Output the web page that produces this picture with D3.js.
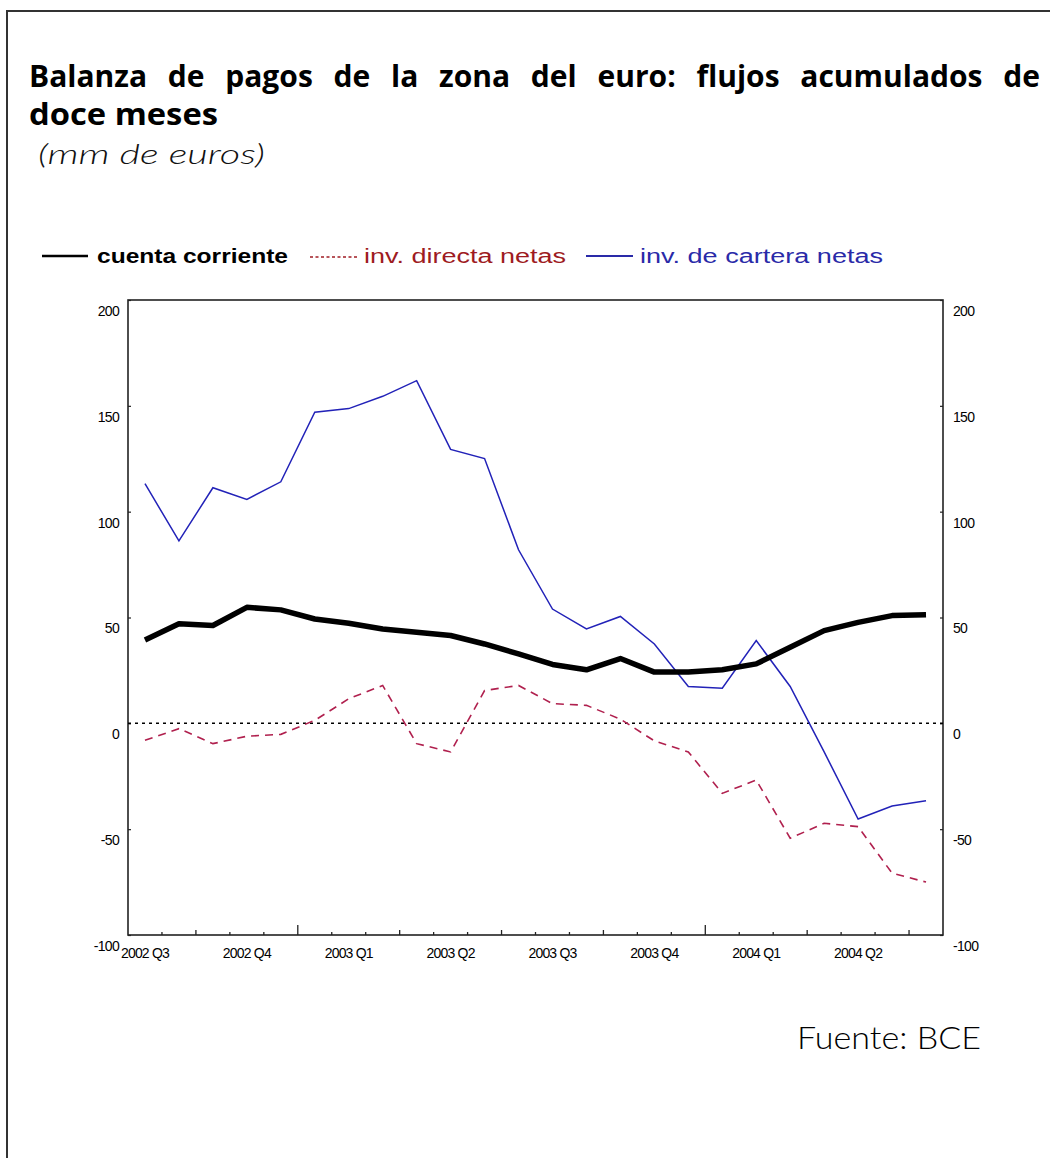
<!DOCTYPE html>
<html><head><meta charset="utf-8">
<script src="https://cdn.jsdelivr.net/npm/d3@7"></script>
<style>body{margin:0;background:#fff} svg{display:block}</style>
</head><body>
<svg id="c" width="1050" height="1158"></svg>
<script>
// ---- data ----
const months = ["2002-07","2002-08","2002-09","2002-10","2002-11","2002-12",
  "2003-01","2003-02","2003-03","2003-04","2003-05","2003-06",
  "2003-07","2003-08","2003-09","2003-10","2003-11","2003-12",
  "2004-01","2004-02","2004-03","2004-04","2004-05","2004-06"];
const quarterLabels = ["2002 Q3","2002 Q4","2003 Q1","2003 Q2","2003 Q3","2003 Q4","2004 Q1","2004 Q2"];
const quarterStarts = ["2002-07","2002-10","2003-01","2003-04","2003-07","2003-10","2004-01","2004-04"];
const cuentaCorriente = [39.4,47,46.2,54.8,53.6,49.3,47.3,44.6,43,41.5,37.5,32.8,27.8,25.3,30.6,24.2,24.2,25.3,28.1,35.9,43.8,47.7,50.9,51.3];
const invDirectaNetas = [-8,-2.5,-9.6,-6.1,-5.2,1.4,11.6,17.9,-9.6,-13.5,15.5,17.9,9.3,8.5,2,-8.3,-13.5,-33.1,-26.8,-54.3,-47.2,-48.8,-70.8,-75];
const invCarteraNetas = [113.2,86.2,111.3,105.8,114.1,147,148.7,154.5,161.9,129.4,125.1,82,54,44.6,50.5,37.5,17.4,16.6,39.1,17.4,-13.5,-45.2,-39.1,-36.6];
const yTicks = [-100,-50,0,50,100,150,200];
const titleLine1 = "Balanza de pagos de la zona del euro: flujos acumulados de";
const titleLine2 = "doce meses";
const subtitle = "(mm de euros)";
const legendItems = ["cuenta corriente","inv. directa netas","inv. de cartera netas"];
const source = "Fuente: BCE";

// ---- layout ----
const svg = d3.select("#c");
const L = 128, R = 943, T = 300, B = 935;
const x = d3.scaleBand().domain(months).range([L, R]).padding(0);
const y = d3.scaleLinear().domain([-100, 200]).range([B, T]);
const cx = m => x(m) + x.bandwidth() / 2;

// outer frame
svg.append("rect").attr("x", 7).attr("y", 11).attr("width", 1100).attr("height", 1200)
  .attr("fill", "none").attr("stroke", "#333").attr("stroke-width", 2);

// title line 1, justified
const tFont = "'Open Sans', 'DejaVu Sans', sans-serif";
const words = titleLine1.split(" ");
const tg = svg.append("g");
const wEls = words.map(w => tg.append("text").attr("y", 87).attr("font-family", tFont)
  .attr("font-weight", 700).attr("font-size", 30).attr("fill", "#000").text(w));
const widths = wEls.map(e => e.node().getComputedTextLength());
const x0 = 29, x1 = 1040;
const gap = (x1 - x0 - d3.sum(widths)) / (words.length - 1);
let xp = x0;
wEls.forEach((e, i) => { e.attr("x", xp); xp += widths[i] + gap; });
svg.append("text").attr("x", 29).attr("y", 125).attr("font-family", tFont)
  .attr("font-weight", 700).attr("font-size", 30).attr("fill", "#000")
  .attr("textLength", 189).attr("lengthAdjust", "spacingAndGlyphs").text(titleLine2);
svg.append("text").attr("x", 38).attr("y", 164).attr("font-family", "Lato, 'Open Sans', sans-serif")
  .attr("font-style", "italic").attr("font-weight", 300).attr("font-size", 27).attr("fill", "#111")
  .attr("textLength", 227).attr("lengthAdjust", "spacingAndGlyphs").text(subtitle);

// legend
const lg = svg.append("g");
const lf = "'Liberation Sans', Arial, sans-serif";
lg.append("line").attr("x1", 42).attr("x2", 88).attr("y1", 256).attr("y2", 256).attr("stroke", "#000").attr("stroke-width", 2.5);
lg.append("text").attr("x", 97).attr("y", 263).attr("font-family", lf).attr("font-weight", "bold").attr("font-size", 20)
  .attr("fill", "#000").attr("textLength", 191).attr("lengthAdjust", "spacingAndGlyphs").text(legendItems[0]);
lg.append("line").attr("x1", 310).attr("x2", 357).attr("y1", 257).attr("y2", 257).attr("stroke", "#a01c24")
  .attr("stroke-width", 1.5).attr("stroke-dasharray", "3,2.5");
lg.append("text").attr("x", 364).attr("y", 263).attr("font-family", lf).attr("font-size", 20)
  .attr("fill", "#9e1b22").attr("textLength", 202).attr("lengthAdjust", "spacingAndGlyphs").text(legendItems[1]);
lg.append("line").attr("x1", 586).attr("x2", 633).attr("y1", 256).attr("y2", 256).attr("stroke", "#2a2aa8").attr("stroke-width", 2);
lg.append("text").attr("x", 640).attr("y", 263).attr("font-family", lf).attr("font-size", 20)
  .attr("fill", "#2a2aa8").attr("textLength", 243).attr("lengthAdjust", "spacingAndGlyphs").text(legendItems[2]);

// plot frame
const frameColor = "#222";
svg.append("rect").attr("x", L).attr("y", T).attr("width", R - L).attr("height", B - T)
  .attr("fill", "none").attr("stroke", frameColor).attr("stroke-width", 1.6);

// y axes
const axFont = "'Liberation Sans Narrow', 'Liberation Sans', Arial, sans-serif";
const yl = svg.append("g").attr("transform", `translate(${L},0)`)
  .call(d3.axisLeft(y).tickValues(yTicks).tickSize(-3).tickPadding(10).tickFormat(d => String(d)));
const yr = svg.append("g").attr("transform", `translate(${R},0)`)
  .call(d3.axisRight(y).tickValues(yTicks).tickSize(-3).tickPadding(10).tickFormat(d => String(d)));
[yl, yr].forEach(g => {
  g.select(".domain").remove();
  g.selectAll(".tick line").attr("stroke", frameColor).attr("stroke-width", 1.2);
  g.selectAll(".tick text").attr("font-family", axFont).attr("font-size", 14).attr("fill", "#000")
    .attr("letter-spacing", "-0.7").attr("dy", "1.1em");
});
yl.selectAll(".tick text").attr("x", -9);
yr.selectAll(".tick text").attr("x", 10);

// x axis ticks at month boundaries
const boundaries = d3.range(1, months.length);
svg.append("g").selectAll("line").data(boundaries).join("line")
  .attr("x1", k => x(months[k])).attr("x2", k => x(months[k]))
  .attr("y1", B).attr("y2", k => B - (k % 12 === 5 ? 10 : (k % 3 === 2 ? 5 : 3)))
  .attr("stroke", frameColor).attr("stroke-width", 1.3);
svg.append("g").selectAll("text").data(quarterStarts).join("text")
  .attr("x", cx).attr("y", 958).attr("text-anchor", "middle")
  .attr("font-family", axFont).attr("font-size", 14).attr("letter-spacing", "-0.8").attr("fill", "#000")
  .text((d, i) => quarterLabels[i]);

// zero line
svg.append("line").attr("x1", L).attr("x2", R).attr("y1", y(0)).attr("y2", y(0))
  .attr("stroke", "#000").attr("stroke-width", 1.5).attr("stroke-dasharray", "3,4");

// series
const line = d3.line().x((d, i) => cx(months[i])).y(d => y(d));
svg.append("path").datum(invDirectaNetas).attr("d", line).attr("fill", "none")
  .attr("stroke", "#b0204e").attr("stroke-width", 1.6).attr("stroke-dasharray", "8,6");
svg.append("path").datum(invCarteraNetas).attr("d", line).attr("fill", "none")
  .attr("stroke", "#2222b8").attr("stroke-width", 1.5);
svg.append("path").datum(cuentaCorriente).attr("d", line).attr("fill", "none")
  .attr("stroke", "#000").attr("stroke-width", 5.5).attr("stroke-linejoin", "round");

// source
svg.append("text").attr("x", 797).attr("y", 1049).attr("font-family", "Lato, 'Open Sans', sans-serif")
  .attr("font-weight", 300).attr("font-size", 32).attr("fill", "#000")
  .attr("textLength", 184).attr("lengthAdjust", "spacingAndGlyphs").text(source);
</script>
</body></html>
